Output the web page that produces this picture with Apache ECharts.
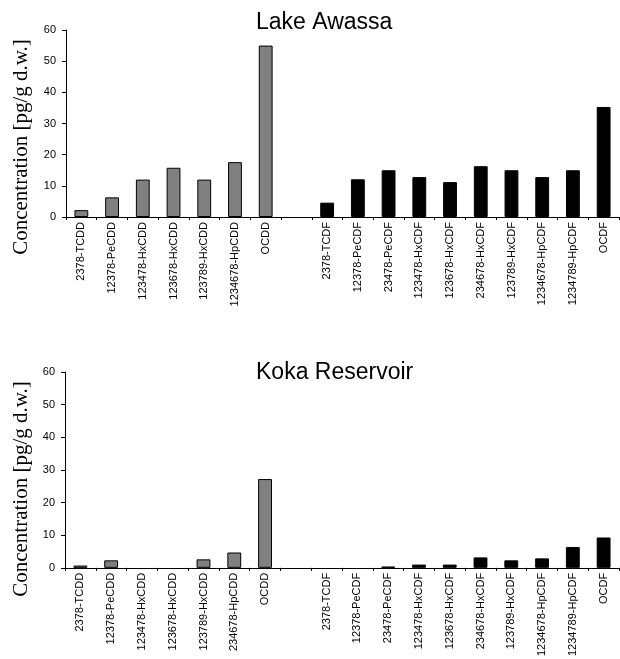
<!DOCTYPE html>
<html>
<head>
<meta charset="utf-8">
<script src="https://cdn.jsdelivr.net/npm/echarts@6/dist/echarts.min.js"></script>
<style>
  html, body { margin: 0; padding: 0; background: #fff; }
  #chart { width: 620px; height: 659px; }
</style>
</head>
<body>
<div id="chart"></div>
<script>
// congeners, top panel (Lake Awassa) and bottom panel (Koka Reservoir)
var awassaDD = ['2378-TCDD', '12378-PeCDD', '123478-HxCDD', '123678-HxCDD', '123789-HxCDD', '1234678-HpCDD', 'OCDD'];
var kokaDD = ['2378-TCDD', '12378-PeCDD', '123478-HxCDD', '123678-HxCDD', '123789-HxCDD', '234678-HpCDD', 'OCDD'];
var dfNames = ['2378-TCDF', '12378-PeCDF', '23478-PeCDF', '123478-HxCDF', '123678-HxCDF', '234678-HxCDF',
               '123789-HxCDF', '1234678-HpCDF', '1234789-HpCDF', 'OCDF'];

// pg/g d.w.
var awassaDDValues = [2.2, 6.3, 12.0, 15.8, 12.0, 17.6, 55];
var awassaDFValues = [4.6, 12.1, 15.0, 12.8, 11.2, 16.3, 15.0, 12.8, 15.0, 35.3];
var kokaDDValues = [0.7, 2.3, 0, 0, 2.6, 4.7, 27.2];
var kokaDFValues = [0, 0, 0.4, 1.0, 1.0, 3.2, 2.3, 2.9, 6.4, 9.3];

var yTicks = [0, 10, 20, 30, 40, 50, 60];

var myChart = echarts.init(document.getElementById('chart'));

// one empty slot between the dioxins and the furans
function cats(dd) {
    return dd.concat(['']).concat(dfNames);
}
// zero values get no bar at all (no outline stub)
function nz(v) {
    return v === 0 ? '-' : v;
}
function ddSeries(vals) {
    var out = vals.map(nz);
    for (var i = 0; i <= dfNames.length; i++) out.push('-');
    return out;
}
function dfSeries(vals) {
    var out = [];
    for (var i = 0; i <= awassaDD.length; i++) out.push('-');
    return out.concat(vals.map(nz));
}

function xAx(gridIndex, data) {
    return {
        type: 'category',
        gridIndex: gridIndex,
        data: data,
        boundaryGap: true,
        axisLine: { show: true, lineStyle: { color: '#000', width: 1 } },
        axisTick: { show: true, interval: 0, length: 3, lineStyle: { color: '#000' } },
        axisLabel: {
            interval: 0,
            rotate: 90,
            margin: 5,
            color: '#000',
            fontSize: 11,
            fontFamily: 'Liberation Sans, Arial'
        },
        splitLine: { show: false }
    };
}
function yAx(gridIndex) {
    return {
        type: 'value',
        gridIndex: gridIndex,
        min: yTicks[0],
        max: yTicks[yTicks.length - 1],
        interval: 10,
        axisLine: { show: true, lineStyle: { color: '#000', width: 1 } },
        axisTick: { show: true, length: 4, lineStyle: { color: '#000' } },
        axisLabel: {
            margin: 10,
            color: '#000',
            fontSize: 11,
            fontFamily: 'Liberation Sans, Arial'
        },
        splitLine: { show: false }
    };
}
function bars(xi, data, color) {
    return {
        type: 'bar',
        xAxisIndex: xi,
        yAxisIndex: xi,
        data: data,
        barWidth: '45%',
        barGap: '-100%',
        itemStyle: { color: color, borderColor: '#000', borderWidth: 1 },
        animation: false
    };
}

var titleStyle = { color: '#000', fontSize: 23, fontWeight: 'normal', fontFamily: 'Liberation Sans, Arial' };
var yNameStyle = { text: 'Concentration [pg/g d.w.]', fill: '#000', fontSize: 21,
                   fontFamily: 'Liberation Serif, Times New Roman, serif',
                   align: 'center', verticalAlign: 'middle' };

option = {
    backgroundColor: '#fff',
    animation: false,
    title: [
        { text: 'Lake Awassa', left: 256, top: 11, padding: 0, textStyle: titleStyle },
        { text: 'Koka Reservoir', left: 256, top: 361, padding: 0, textStyle: titleStyle }
    ],
    grid: [
        { left: 66, top: 30, width: 553, height: 187 },
        { left: 65, top: 372, width: 554, height: 198 }
    ],
    xAxis: [xAx(0, cats(awassaDD)), xAx(1, cats(kokaDD))],
    yAxis: [yAx(0), yAx(1)],
    graphic: [
        { type: 'text', x: 21, y: 147, rotation: Math.PI / 2, style: yNameStyle },
        { type: 'text', x: 21, y: 489, rotation: Math.PI / 2, style: yNameStyle }
    ],
    series: [
        bars(0, ddSeries(awassaDDValues), '#808080'),
        bars(0, dfSeries(awassaDFValues), '#000'),
        bars(1, ddSeries(kokaDDValues), '#808080'),
        bars(1, dfSeries(kokaDFValues), '#000')
    ]
};
myChart.setOption(option);
</script>
</body>
</html>
